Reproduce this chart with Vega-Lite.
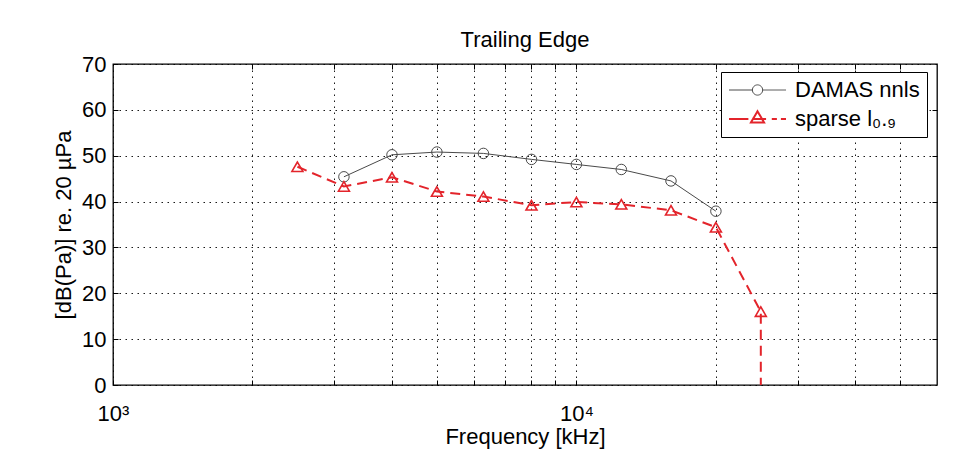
{
  "$schema": "https://vega.github.io/schema/vega-lite/v6.json",
  "autosize": "none",
  "width": 824,
  "height": 321,
  "padding": {"left": 113, "top": 64, "right": 22, "bottom": 81},
  "background": "white",
  "title": {"text": "Trailing Edge", "offset": 1},
  "data": {
    "values": [
      {"series": "DAMAS nnls", "freq": 3150, "db": 45.4},
      {"series": "DAMAS nnls", "freq": 4000, "db": 50.2},
      {"series": "DAMAS nnls", "freq": 5000, "db": 50.8},
      {"series": "DAMAS nnls", "freq": 6300, "db": 50.5},
      {"series": "DAMAS nnls", "freq": 8000, "db": 49.2},
      {"series": "DAMAS nnls", "freq": 10000, "db": 48.1},
      {"series": "DAMAS nnls", "freq": 12500, "db": 47.0},
      {"series": "DAMAS nnls", "freq": 16000, "db": 44.5},
      {"series": "DAMAS nnls", "freq": 20000, "db": 37.9},
      {"series": "sparse l₀.₉", "freq": 2500, "db": 47.6},
      {"series": "sparse l₀.₉", "freq": 3150, "db": 43.3},
      {"series": "sparse l₀.₉", "freq": 4000, "db": 45.3},
      {"series": "sparse l₀.₉", "freq": 5000, "db": 42.2},
      {"series": "sparse l₀.₉", "freq": 6300, "db": 41.1},
      {"series": "sparse l₀.₉", "freq": 8000, "db": 39.2},
      {"series": "sparse l₀.₉", "freq": 10000, "db": 39.9},
      {"series": "sparse l₀.₉", "freq": 12500, "db": 39.4},
      {"series": "sparse l₀.₉", "freq": 16000, "db": 38.1},
      {"series": "sparse l₀.₉", "freq": 20000, "db": 34.4},
      {"series": "sparse l₀.₉", "freq": 25000, "db": 16.0},
      {"series": "sparse l₀.₉", "freq": 25000, "db": 0}
    ]
  },
  "encoding": {
    "x": {"field": "freq", "type": "quantitative",
      "scale": {"type": "log", "domain": [1000, 60000], "nice": false}},
    "y": {"field": "db", "type": "quantitative",
      "scale": {"domain": [0, 70], "nice": false}},
    "color": {"field": "series", "type": "nominal",
      "scale": {"domain": ["DAMAS nnls", "sparse l₀.₉"], "range": ["#4a4a4a", "#e3242b"]},
      "legend": {
        "title": null,
        "orient": "none",
        "legendX": 608,
        "legendY": 8,
        "padding": 7,
        "strokeColor": "#000",
        "fillColor": "white",
        "cornerRadius": 0,
        "symbolSize": 3249,
        "labelFontSize": 22,
        "labelFont": "Liberation Sans",
        "labelColor": "#000",
        "labelOffset": 45,
        "rowPadding": 6,
        "encode": {
          "symbols": {
            "update": {
              "size": {"value": 3249},
              "shape": {"signal": "datum.value === 'DAMAS nnls' ? 'M-0.35,0H0.47M0.83,0H1.65M0.47,0A0.18,0.18 0 1,1 0.83,0A0.18,0.18 0 1,1 0.47,0' : 'M-0.35,0H0.33M0.5,0H0.95M1.15,0H1.33M1.47,0H1.65M0.65,-0.27L0.88,0.12L0.42,0.12Z'"},
              "fill": {"value": "transparent"},
              "strokeWidth": {"signal": "datum.value === 'DAMAS nnls' ? 1 : 2"},
              "strokeDash": {"value": [1, 0]},
              "opacity": {"value": 1}
            }
          }
        }
      }
    }
  },
  "layer": [
    {
      "transform": [{"filter": "datum.series === 'DAMAS nnls'"}],
      "mark": {"type": "line", "strokeWidth": 1},
      "encoding": {
        "x": {"field": "freq", "type": "quantitative",
          "scale": {"type": "log", "domain": [1000, 60000], "nice": false},
          "axis": {"orient": "bottom", "title": "Frequency [kHz]",
            "values": [1000, 2000, 3000, 4000, 5000, 6000, 7000, 8000, 9000, 10000, 20000, 30000, 40000, 50000],
            "labelExpr": "datum.value == 1000 ? '10³' : (datum.value == 10000 ? '10⁴' : '')",
            "labelFlush": false, "labelOverlap": false,
            "grid": true, "labelPadding": 23, "titlePadding": 2}},
        "y": {"field": "db", "type": "quantitative",
          "scale": {"domain": [0, 70], "nice": false},
          "axis": {"orient": "left", "title": "[dB(Pa)] re. 20 µPa",
            "values": [0, 10, 20, 30, 40, 50, 60, 70], "grid": true, "labelPadding": 12, "titlePadding": 6}}
      }
    },
    {
      "transform": [{"filter": "datum.series !== 'DAMAS nnls'"}],
      "mark": {"type": "line", "strokeWidth": 2, "strokeDash": [10, 6]},
      "encoding": {
        "x": {"field": "freq", "type": "quantitative",
          "scale": {"type": "log", "domain": [1000, 60000], "nice": false},
          "axis": {"orient": "top", "title": null, "labels": false, "grid": false,
            "values": [2000, 3000, 4000, 5000, 6000, 7000, 8000, 9000, 10000, 20000, 30000, 40000, 50000]}},
        "y": {"field": "db", "type": "quantitative",
          "scale": {"domain": [0, 70], "nice": false},
          "axis": {"orient": "right", "title": null, "labels": false, "grid": false,
            "values": [10, 20, 30, 40, 50, 60]}}
      }
    },
    {
      "transform": [{"filter": "datum.series === 'DAMAS nnls'"}],
      "mark": {"type": "point", "shape": "circle", "size": 110, "filled": false, "strokeWidth": 1, "opacity": 1},
      "encoding": {
        "x": {"field": "freq", "type": "quantitative", "axis": null},
        "y": {"field": "db", "type": "quantitative", "axis": null}
      }
    },
    {
      "transform": [{"filter": "datum.series !== 'DAMAS nnls' && datum.db > 0"}],
      "mark": {"type": "point", "shape": "triangle-up", "size": 120, "filled": false, "strokeWidth": 1.6, "opacity": 1},
      "encoding": {
        "x": {"field": "freq", "type": "quantitative", "axis": null},
        "y": {"field": "db", "type": "quantitative", "axis": null}
      }
    }
  ],
  "resolve": {"axis": {"x": "independent", "y": "independent"}},
  "config": {
    "font": "Liberation Sans",
    "view": {"stroke": "#000", "strokeWidth": 1.3},
    "axis": {
      "labelFont": "Liberation Sans",
      "labelFontSize": 22,
      "labelColor": "#000",
      "titleFont": "Liberation Sans",
      "titleFontSize": 22,
      "titleFontWeight": "normal",
      "titleColor": "#000",
      "domain": false,
      "tickColor": "#000",
      "tickSize": -5,
      "tickWidth": 1,
      "gridColor": "#000",
      "gridDash": [1.5, 4.5],
      "gridOpacity": 0.9,
      "gridWidth": 1
    },
    "title": {"font": "Liberation Sans", "fontSize": 22, "fontWeight": "normal", "color": "#000"}
  }
}
